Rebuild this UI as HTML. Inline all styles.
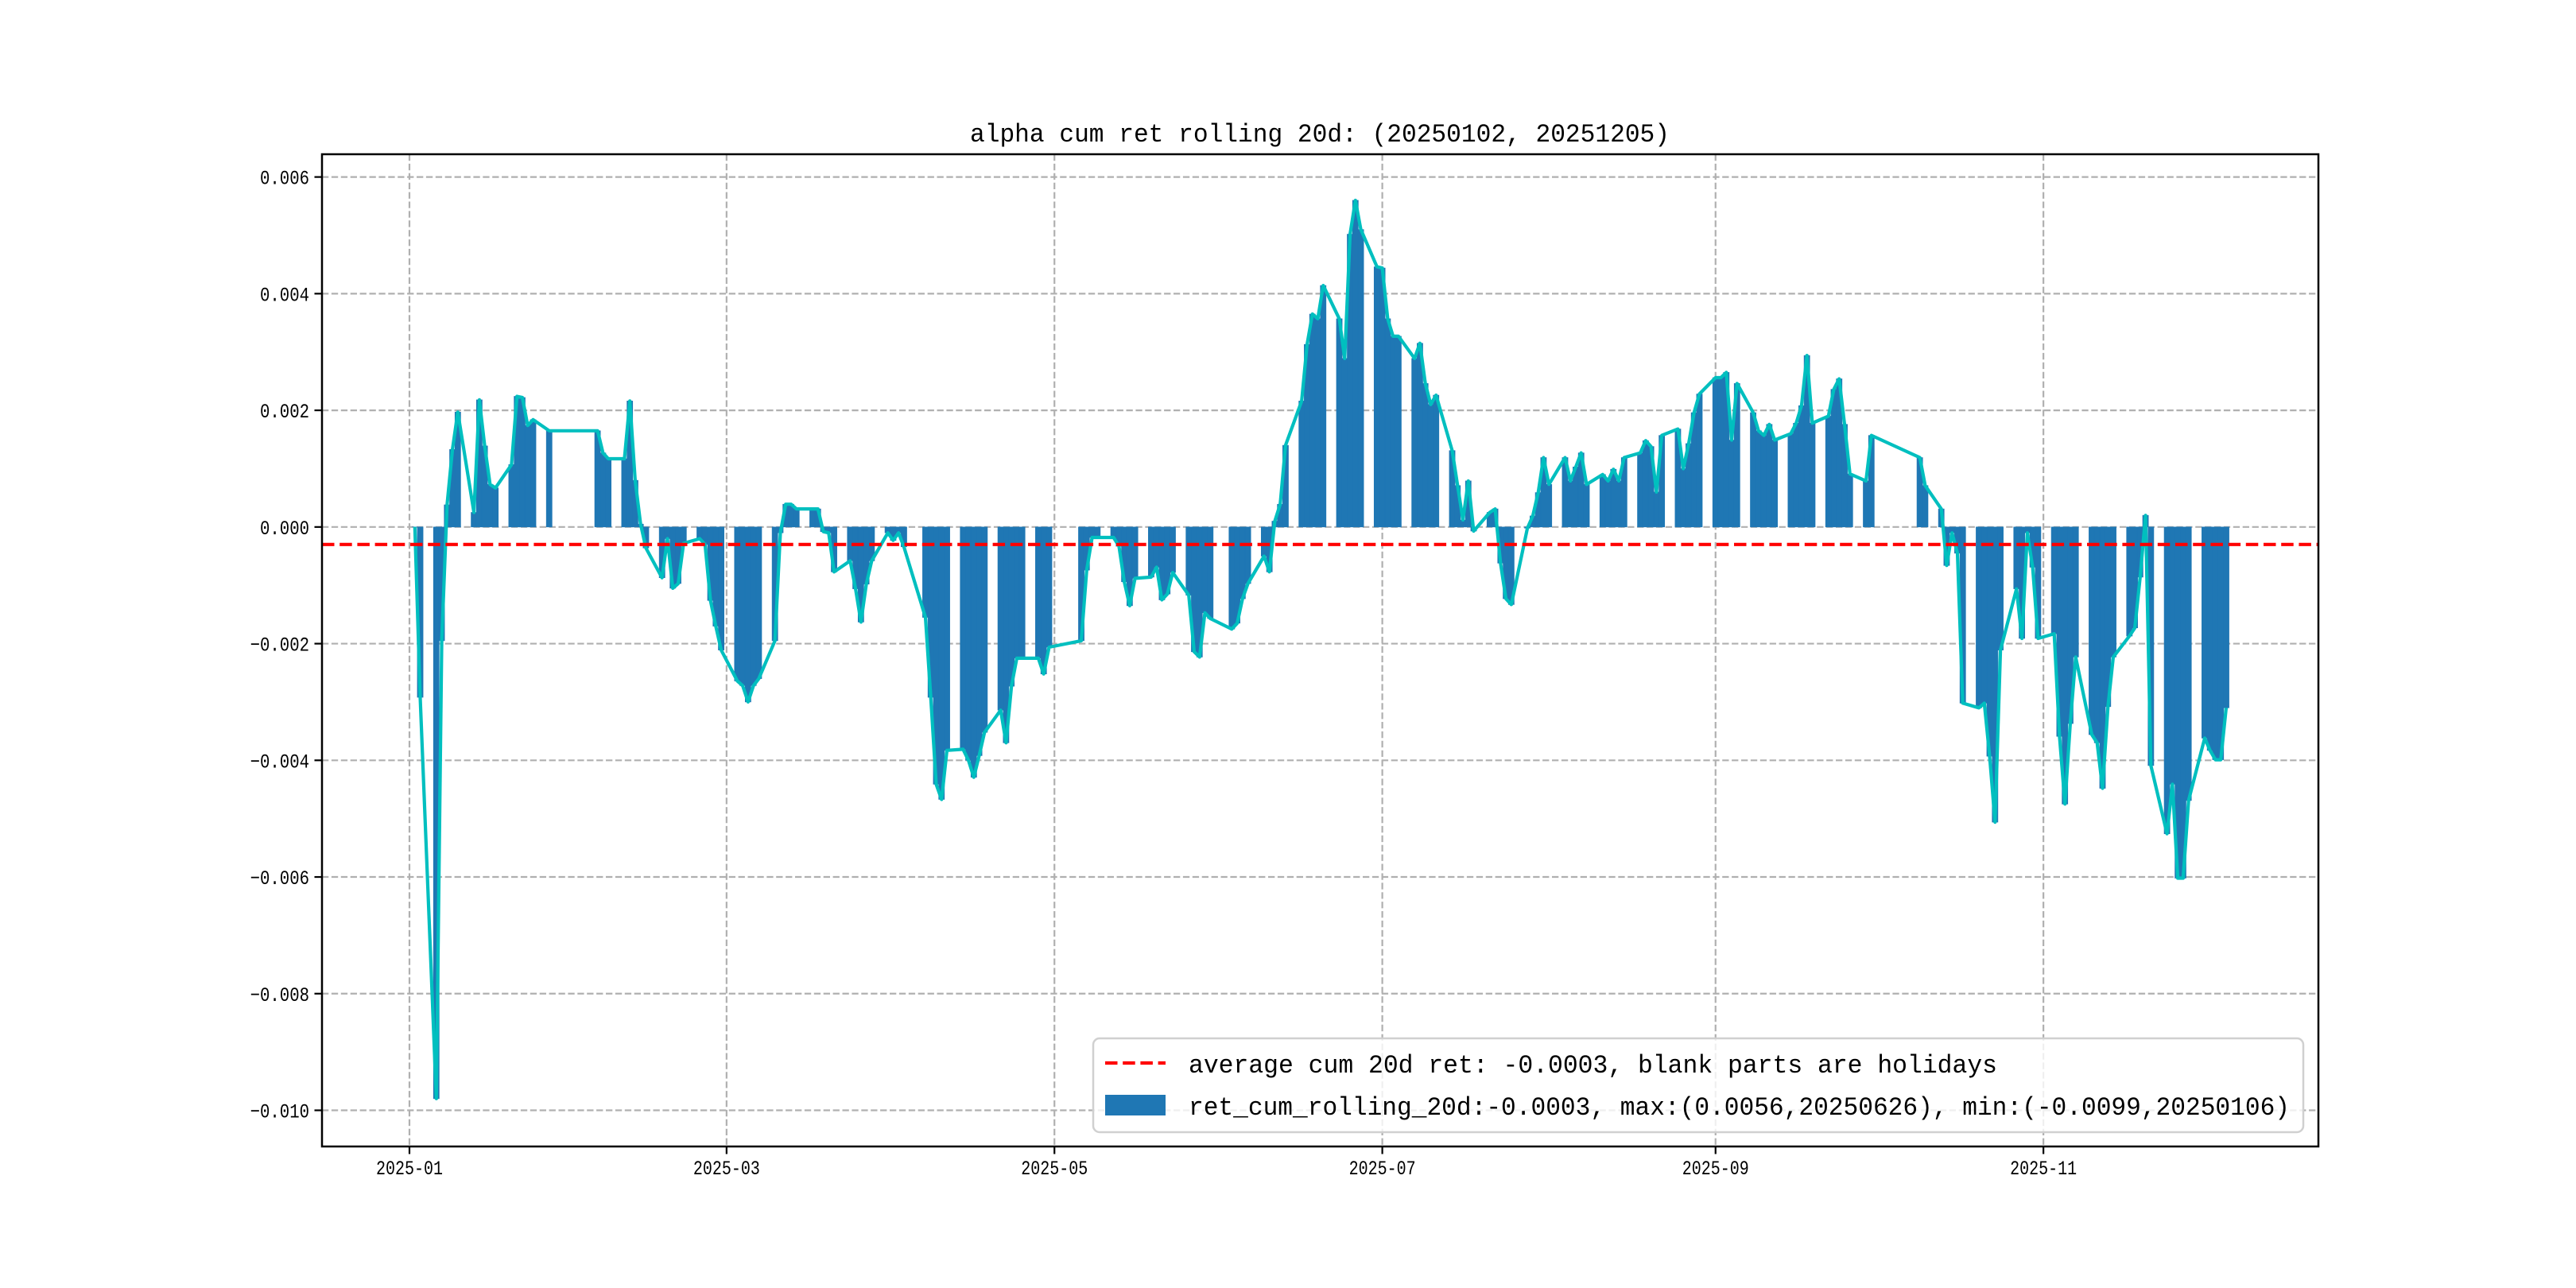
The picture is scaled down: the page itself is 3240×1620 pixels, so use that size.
<!DOCTYPE html>
<html>
<head>
<meta charset="utf-8">
<style>
  html,body{margin:0;padding:0;background:#fff;}
  svg{display:block;}
  text{font-family:"Liberation Mono","Noto Sans CJK SC",monospace;fill:#000;}
</style>
</head>
<body>
<svg id="chart" width="3240" height="1620" viewBox="0 0 3240 1620" xmlns="http://www.w3.org/2000/svg">
  <rect x="0" y="0" width="3240" height="1620" fill="#fff"/>
  <text x="1660" y="178" text-anchor="middle" font-size="32" textLength="880" lengthAdjust="spacingAndGlyphs">alpha cum ret rolling 20d: (20250102, 20251205)</text>
  <g id="grid"></g>
  <g id="bars"></g>
  <g id="lines"></g>
  <g id="axes"></g>
  <g id="legend">
    <rect x="1375" y="1306" width="1522" height="118" rx="8" fill="#fff" fill-opacity="0.8" stroke="#d0d0d0" stroke-width="2.5"/>
    <line x1="1390" y1="1337" x2="1466" y2="1337" stroke="#ff0000" stroke-width="4.2" stroke-dasharray="15.5 6.7"/>
    <text x="1495" y="1349" font-size="32" textLength="1017" lengthAdjust="spacingAndGlyphs">average cum 20d ret: -0.0003, blank parts are holidays</text>
    <rect x="1390" y="1377" width="76" height="26" fill="#1f77b4"/>
    <text x="1495" y="1402" font-size="32" textLength="1385" lengthAdjust="spacingAndGlyphs">ret_cum_rolling_20d:-0.0003, max:(0.0056,20250626), min:(-0.0099,20250106)</text>
  </g>
</svg>
<script>
const dates = ["01-02","01-03","01-06","01-07","01-08","01-09","01-10","01-13","01-14","01-15","01-16","01-17","01-20","01-21","01-22","01-23","01-24","01-27",
"02-05","02-06","02-07","02-10","02-11","02-12","02-13","02-14","02-17","02-18","02-19","02-20","02-21","02-24","02-25","02-26","02-27","02-28",
"03-03","03-04","03-05","03-06","03-07","03-10","03-11","03-12","03-13","03-14","03-17","03-18","03-19","03-20","03-21","03-24","03-25","03-26","03-27","03-28","03-31",
"04-01","04-02","04-03","04-07","04-08","04-09","04-10","04-11","04-14","04-15","04-16","04-17","04-18","04-21","04-22","04-23","04-24","04-25","04-28","04-29","04-30",
"05-06","05-07","05-08","05-09","05-12","05-13","05-14","05-15","05-16","05-19","05-20","05-21","05-22","05-23","05-26","05-27","05-28","05-29","05-30",
"06-03","06-04","06-05","06-06","06-09","06-10","06-11","06-12","06-13","06-16","06-17","06-18","06-19","06-20","06-23","06-24","06-25","06-26","06-27","06-30",
"07-01","07-02","07-03","07-04","07-07","07-08","07-09","07-10","07-11","07-14","07-15","07-16","07-17","07-18","07-21","07-22","07-23","07-24","07-25","07-28","07-29","07-30","07-31",
"08-01","08-04","08-05","08-06","08-07","08-08","08-11","08-12","08-13","08-14","08-15","08-18","08-19","08-20","08-21","08-22","08-25","08-26","08-27","08-28","08-29",
"09-01","09-02","09-03","09-04","09-05","09-08","09-09","09-10","09-11","09-12","09-15","09-16","09-17","09-18","09-19","09-22","09-23","09-24","09-25","09-26","09-29","09-30",
"10-09","10-10","10-13","10-14","10-15","10-16","10-17","10-20","10-21","10-22","10-23","10-24","10-27","10-28","10-29","10-30","10-31",
"11-03","11-04","11-05","11-06","11-07","11-10","11-11","11-12","11-13","11-14","11-17","11-18","11-19","11-20","11-21","11-24","11-25","11-26","11-27","11-28",
"12-01","12-02","12-03","12-04","12-05"];
const values = [0,-2.92,-9.8,-1.95,0.38,1.33,1.97,0.25,2.18,1.39,0.73,0.67,1.07,2.24,2.22,1.74,1.84,1.65,
1.65,1.27,1.17,1.17,2.16,0.8,0.05,-0.36,-0.87,-0.2,-1.05,-0.97,-0.28,-0.2,-0.3,-1.26,-1.7,-2.11,
-2.64,-2.72,-3.0,-2.72,-2.6,-1.95,-0.1,0.39,0.39,0.31,0.31,0.31,-0.08,-0.1,-0.77,-0.58,-1.06,-1.63,-0.98,-0.58,-0.1,
-0.23,-0.1,-0.34,-1.55,-2.92,-4.41,-4.67,-3.83,-3.81,-4.0,-4.29,-3.92,-3.52,-3.14,-3.7,-2.73,-2.25,-2.25,-2.25,-2.52,-2.06,
-1.95,-0.74,-0.18,-0.18,-0.18,-0.33,-0.94,-1.35,-0.88,-0.86,-0.69,-1.25,-1.15,-0.78,-1.17,-2.14,-2.23,-1.47,-1.57,
-1.75,-1.65,-1.23,-0.97,-0.5,-0.77,0.1,0.39,1.4,2.16,3.13,3.65,3.57,4.14,3.57,2.89,5.02,5.6,5.1,4.46,
4.44,3.57,3.27,3.27,2.89,3.15,2.46,2.1,2.26,1.31,0.71,0.12,0.79,-0.07,0.25,0.31,-0.62,-1.23,-1.33,-0.02,0.19,0.59,1.19,
0.73,1.19,0.79,1.03,1.27,0.73,0.9,0.79,0.99,0.79,1.19,1.27,1.48,1.38,0.6,1.57,1.68,1.0,1.43,1.96,2.28,
2.56,2.56,2.65,1.49,2.46,1.96,1.65,1.57,1.76,1.49,1.6,1.78,2.08,2.94,1.78,1.9,2.36,2.54,1.76,0.91,0.79,1.57,
1.19,0.71,0.31,-0.66,-0.1,-0.45,-3.02,-3.1,-3.02,-3.93,-5.06,-2.11,-1.06,-1.91,-0.1,-0.69,-1.91,
-1.83,-3.59,-4.75,-3.37,-2.23,-3.56,-3.7,-4.48,-3.08,-2.23,-1.87,-1.73,-0.86,0.2,-4.09,-5.26,-4.41,-6.02,-6.02,-4.69,
-3.62,-3.83,-3.99,-3.99,-3.1];
const averageValue = -0.3;
const yTicks = [6,4,2,0,-2,-4,-6,-8,-10];
const yTickLabels = ["0.006","0.004","0.002","0.000","\u22120.002","\u22120.004","\u22120.006","\u22120.008","\u22120.010"];
const xTicks = ["01-01","03-01","05-01","07-01","09-01","11-01"];
const xTickLabels = ["2025-01","2025-03","2025-05","2025-07","2025-09","2025-11"];

const NS = "http://www.w3.org/2000/svg";
const L = 405, R = 2916, T = 194, B = 1442;
const dayMin = -16.27, dayMax = 355.16;
const vMin = -10.62, vMax = 6.39;
function dayOf(md){ const p = md.split("-"); return (Date.UTC(2025, +p[0]-1, +p[1]) - Date.UTC(2025,0,1))/864e5; }
function xScale(md){ return L + (dayOf(md) - dayMin) / (dayMax - dayMin) * (R - L); }
function yScale(v){ return B - (v - vMin) / (vMax - vMin) * (B - T); }
function mk(tag, attrs, parent){ const e = document.createElementNS(NS, tag); for (const k in attrs) e.setAttribute(k, attrs[k]); parent.appendChild(e); return e; }

const grid = document.getElementById("grid");
const bars = document.getElementById("bars");
const lines = document.getElementById("lines");
const axes = document.getElementById("axes");

yTicks.forEach((v, i) => {
  const y = yScale(v);
  const g = mk("line", {x1:L, x2:R, y1:y, y2:y, stroke:"#b0b0b0", "stroke-width":2.2, "stroke-dasharray":"8.3 3.6"}, grid);
  
  
  const t = mk("line", {x1:L-9.5, x2:L, y1:y, y2:y, stroke:"#000", "stroke-width":2.2}, axes);
  
  
  const lab = mk("text", {x:389, y:y+9, "text-anchor":"end", "font-size":25, textLength: yTickLabels[i].length*12.4, lengthAdjust:"spacingAndGlyphs"}, axes);
  lab.textContent = yTickLabels[i];
  
  
});
xTicks.forEach((md, i) => {
  const x = xScale(md);
  const g = mk("line", {x1:x, x2:x, y1:T, y2:B, stroke:"#b0b0b0", "stroke-width":2.2, "stroke-dasharray":"8.3 3.6"}, grid);
  
  
  const t = mk("line", {x1:x, x2:x, y1:B, y2:B+9.5, stroke:"#000", "stroke-width":2.2}, axes);
  
  
  const lab = mk("text", {x:x, y:1477, "text-anchor":"middle", "font-size":25, textLength:84, lengthAdjust:"spacingAndGlyphs"}, axes);
  lab.textContent = xTickLabels[i];
  
  
});

const y0 = yScale(0);
const bw = 7.2;
dates.forEach((md, i) => {
  const x = xScale(md), y = yScale(values[i]);
  const r = mk("rect", {x:x-bw/2, y:Math.min(y,y0), width:bw, height:Math.max(Math.abs(y-y0),0.01), fill:"#1f77b4", stroke:"#1f77b4", "stroke-width":0.6}, bars);
  
  
});

const pts = dates.map((md, i) => xScale(md).toFixed(1) + "," + yScale(values[i]).toFixed(1)).join(" ");
const pl = mk("polyline", {points:pts, fill:"none", stroke:"#00bfbf", "stroke-width":4.2, "stroke-linejoin":"round"}, lines);



const ay = yScale(averageValue);
const al = mk("line", {x1:L, x2:R, y1:ay, y2:ay, stroke:"#ff0000", "stroke-width":4.2, "stroke-dasharray":"15.5 6.7"}, lines);



const sp = mk("rect", {x:L, y:T, width:R-L, height:B-T, fill:"none", stroke:"#000", "stroke-width":2.5}, axes);


</script>
</body>
</html>
